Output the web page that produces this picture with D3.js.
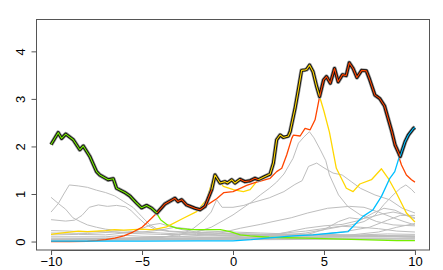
<!DOCTYPE html>
<html>
<head>
<meta charset="utf-8">
<script src="https://cdn.jsdelivr.net/npm/d3@7"></script>
<style>
html,body{margin:0;padding:0;background:#fff;}
svg{display:block;font-family:"Liberation Sans",Arial,Helvetica,sans-serif;}
</style>
</head>
<body>
<svg id="chart" width="443" height="270"></svg>
<script>
// ---- tick labels ----
const xTicks = [-10, -5, 0, 5, 10];
const yTicks = [0, 1, 2, 3, 4];

// ---- colored component curves: [x, y] ----
const greenCurve = [[-10,2.04],[-9.61,2.29],[-9.42,2.17],[-9.19,2.26],[-8.78,2.14],[-8.42,1.93],[-8.23,2.01],[-7.87,1.79],[-7.5,1.47],[-7.32,1.4],[-6.86,1.3],[-6.58,1.32],[-6.4,1.12],[-5.94,1.03],[-5.67,0.96],[-5.3,0.81],[-5.02,0.71],[-4.75,0.76],[-4.47,0.7],[-4.18,0.58],[-3.98,0.46],[-3.6,0.35],[-3.1,0.28],[-2.3,0.25],[-1.5,0.25],[-0.7,0.25],[-0.15,0.21],[0.4,0.14],[0.94,0.12],[2,0.09],[3,0.08],[4,0.07],[5,0.06],[6,0.05],[7,0.04],[8,0.03],[9,0.02],[10,0.02]];
const orangeCurve = [[-10,0],[-9,0],[-8,0.005],[-7.5,0.02],[-7,0.04],[-6.5,0.07],[-6,0.12],[-5.5,0.2],[-5,0.3],[-4.75,0.39],[-4.45,0.5],[-4.18,0.6],[-3.74,0.79],[-3.19,0.91],[-3.03,0.84],[-2.82,0.88],[-2.55,0.77],[-2.09,0.7],[-1.81,0.67],[-1.54,0.74],[-0.9,0.9],[-0.5,1.03],[0,1.05],[0.4,1.12],[0.75,1.18],[1.2,1.24],[1.5,1.27],[2.04,1.33],[2.4,1.47],[2.68,1.54],[2.95,1.82],[3.23,2.17],[3.32,2.24],[3.69,2.22],[3.96,2.38],[4.24,2.35],[4.51,2.56],[4.69,2.91],[4.76,3.05],[4.98,3.4],[5.14,3.47],[5.35,3.33],[5.58,3.64],[5.78,3.36],[6.02,3.51],[6.22,3.49],[6.39,3.76],[6.6,3.64],[6.81,3.45],[7.07,3.6],[7.33,3.59],[7.51,3.41],[7.8,3.08],[8.06,3.01],[8.33,2.85],[8.73,2.31],[8.91,2.03],[9.08,1.82],[9.26,1.61],[9.53,1.4],[9.81,1.3],[10,1.25]];
const yellowCurve = [[-10,0.15],[-9.6,0.17],[-9,0.2],[-8.5,0.22],[-8,0.21],[-7.5,0.22],[-7,0.23],[-6.5,0.25],[-6,0.24],[-5.5,0.25],[-5,0.26],[-4.6,0.25],[-4.38,0.25],[-3.65,0.31],[-2.73,0.49],[-2,0.63],[-1.45,0.88],[-1.17,1.23],[-0.99,1.4],[-0.53,1.16],[0.02,1.09],[0.57,1.05],[0.94,1.09],[1.3,1.26],[1.39,1.3],[1.76,1.37],[2.04,1.42],[2.22,1.65],[2.4,2.14],[2.59,2.24],[2.77,2.19],[3.04,2.22],[3.14,2.31],[3.41,2.8],[3.59,3.19],[3.77,3.6],[3.96,3.61],[4.05,3.62],[4.21,3.71],[4.4,3.57],[4.6,3.26],[4.76,3.05],[5,2.74],[5.3,2.3],[5.68,1.54],[6.23,1.12],[6.6,1.05],[6.97,1.21],[7.61,1.3],[8.16,1.53],[8.53,1.33],[8.98,1.02],[9.53,0.6],[10,0.41]];
const blueCurve = [[-10,0.01],[-5,0.01],[-2,0.012],[0,0.015],[1,0.04],[1.85,0.07],[3.3,0.12],[4.4,0.14],[5.5,0.18],[6.33,0.21],[6.78,0.39],[7.15,0.53],[7.7,0.67],[8.16,0.95],[8.62,1.33],[8.89,1.47],[9.17,1.82],[9.46,2.1],[9.64,2.24],[9.92,2.38],[10,2.4]];

// ---- upper envelope ----
const envelopeX = [-10,-9.61,-9.42,-9.19,-8.78,-8.42,-8.23,-7.87,-7.5,-7.32,-6.86,-6.58,-6.4,-5.94,-5.67,-5.3,-5.02,-4.75,-4.47,-4.18,-3.74,-3.19,-3.03,-2.82,-2.55,-2.09,-1.81,-1.54,-1.17,-0.99,-0.71,-0.44,-0.31,-0.07,0.11,0.39,0.66,0.94,1.21,1.39,1.76,2.04,2.22,2.4,2.59,2.77,3.04,3.14,3.41,3.59,3.77,3.96,4.05,4.21,4.4,4.6,4.76,4.98,5.14,5.35,5.58,5.78,6.02,6.22,6.39,6.6,6.81,7.07,7.33,7.51,7.8,8.06,8.33,8.73,8.91,9.19,9.46,9.64,9.92,10];
const envelopeY = [2.04,2.29,2.17,2.26,2.14,1.93,2.01,1.79,1.47,1.4,1.3,1.32,1.12,1.03,0.96,0.81,0.71,0.76,0.7,0.6,0.79,0.91,0.84,0.88,0.77,0.7,0.67,0.74,1.09,1.4,1.23,1.26,1.23,1.3,1.23,1.31,1.26,1.28,1.33,1.3,1.37,1.42,1.65,2.14,2.24,2.19,2.22,2.31,2.8,3.19,3.6,3.61,3.62,3.71,3.57,3.26,3.05,3.4,3.47,3.33,3.64,3.36,3.51,3.49,3.76,3.64,3.45,3.6,3.59,3.41,3.08,3.01,2.85,2.31,2.03,1.79,2.1,2.24,2.38,2.4];
const envelopeBreaks = [-10, -4.18, -1.17, 0.39, 1.39, 4.76, 9.19, 10];
const envelopeKeys = ["green", "orange", "yellow", "orange", "yellow", "orange", "blue"];

// ---- gray background components ----
const grayCurves = [
  [[-10,0.93],[-9.6,0.8],[-9.2,0.68],[-8.8,0.5],[-8.4,0.42],[-8,0.35],[-7.5,0.3],[-7,0.26],[-6.5,0.24],[-5.8,0.22],[-5,0.2],[-4,0.18],[-3,0.16],[-2,0.15],[0,0.13],[2,0.12],[4,0.12],[6,0.11],[8,0.1],[10,0.1]],
  [[-10,0.62],[-9.6,0.8],[-9.3,1.0],[-9.0,1.19],[-8.5,1.17],[-8,1.14],[-7.5,1.08],[-7,1.03],[-6.5,0.96],[-6,0.84],[-5.5,0.72],[-5,0.52],[-4.6,0.36],[-4.2,0.27],[-3.5,0.22],[-2.5,0.2],[-1,0.18],[0,0.17],[2,0.15],[4,0.14],[6,0.13],[8,0.12],[10,0.11]],
  [[-10,0.46],[-9.2,0.43],[-8.7,0.45],[-8.3,0.55],[-7.9,0.72],[-7.4,0.77],[-6.9,0.74],[-6.4,0.76],[-5.9,0.73],[-5.6,0.65],[-5.2,0.5],[-4.8,0.36],[-4.3,0.26],[-3.5,0.21],[-2,0.17],[0,0.15],[3,0.13],[6,0.12],[10,0.1]],
  [[-10,0.23],[-9,0.22],[-8,0.2],[-7,0.22],[-6,0.19],[-5,0.2],[-4,0.24],[-3.2,0.3],[-2.5,0.27],[-1.5,0.22],[0,0.2],[1.5,0.18],[3,0.16],[5,0.15],[7,0.14],[8.5,0.16],[10,0.15]],
  [[-10,0.18],[-8,0.17],[-6.5,0.2],[-5.5,0.17],[-4,0.15],[-2,0.14],[0,0.12],[2,0.13],[4,0.11],[6,0.12],[8,0.13],[10,0.12]],
  [[-10,0.1],[-7,0.1],[-6,0.13],[-5,0.11],[-3,0.1],[0,0.09],[3,0.08],[6,0.09],[9,0.1],[10,0.09]],
  [[-10,0.07],[-5,0.07],[0,0.06],[5,0.06],[10,0.06]],
  [[-10,0.04],[-4,0.05],[2,0.04],[7,0.05],[10,0.05]],
  [[-10,0.14],[-8.5,0.15],[-7,0.14],[-5.5,0.2],[-4.5,0.35],[-4,0.38],[-3.5,0.32],[-2.8,0.25],[-2,0.2],[-1,0.18],[1,0.15],[4,0.13],[10,0.1]],
  [[-10,0.05],[-5,0.08],[-3,0.12],[-2.2,0.27],[-1.6,0.45],[-1.2,0.62],[-0.9,0.88],[-0.6,0.72],[0,0.72],[0.6,0.76],[0.95,0.81],[1.5,0.98],[2,1.12],[2.4,1.25],[2.8,1.42],[3.3,1.75],[3.6,2.07],[3.9,2.2],[4.2,2.31],[4.45,2.18],[4.8,1.93],[5.1,1.7],[5.3,1.4],[5.8,0.98],[6.3,0.74],[7,0.56],[7.9,0.42],[8.8,0.35],[10,0.33]],
  [[-10,0.03],[-4,0.08],[-3,0.15],[-2,0.2],[-1.2,0.3],[-0.5,0.45],[0,0.56],[0.9,0.8],[2,0.92],[2.8,1.05],[3.4,1.2],[3.8,1.28],[4.15,1.58],[4.6,1.65],[5,1.55],[5.5,1.44],[6,1.4],[6.5,1.26],[7,1.12],[7.8,0.98],[8.6,0.88],[9.3,0.7],[10,0.6]],
  [[-10,0.02],[-3,0.1],[-1,0.15],[0.4,0.28],[1.5,0.36],[2.2,0.42],[3.2,0.5],[4.1,0.6],[5.2,0.7],[6.4,0.74],[7.2,0.72],[8,0.62],[8.8,0.5],[9.4,0.42],[10,0.35]],
  [[-10,0.02],[-2,0.08],[0,0.1],[2,0.15],[4,0.22],[5.5,0.3],[6.5,0.35],[7.2,0.42],[7.8,0.55],[8.3,0.78],[8.8,0.98],[9.2,1.12],[9.5,1.19],[9.8,1.1],[10,1.02]],
  [[-10,0.03],[0,0.07],[2,0.12],[3,0.2],[4,0.28],[5,0.33],[6,0.36],[7,0.45],[7.7,0.6],[8.3,0.7],[8.9,0.66],[9.5,0.55],[10,0.48]],
  [[-10,0.02],[2,0.1],[4,0.18],[5,0.25],[5.8,0.42],[6.4,0.5],[7,0.47],[7.6,0.52],[8.2,0.58],[8.8,0.62],[9.3,0.58],[10,0.5]],
  [[-10,0.03],[-1,0.05],[2,0.08],[4,0.12],[6,0.2],[7.5,0.3],[8.5,0.45],[9.2,0.55],[10,0.55]],
  [[-10,0.02],[0,0.04],[4,0.07],[6,0.12],[8,0.2],[9,0.3],[10,0.38]],
  [[-10,0.04],[2,0.05],[4,0.14],[5,0.25],[6,0.32],[7,0.3],[8,0.27],[9,0.22],[10,0.2]]
];

const palette = { green: "#76EE00", orange: "#FF4500", yellow: "#FFD700", blue: "#00BFFF", gray: "#BEBEBE" };

// ---- scales ----
const svg = d3.select("#chart");
const x = d3.scaleLinear().domain([-10.8, 10.8]).range([36.5, 429.5]);
const y = d3.scaleLinear().domain([-0.178, 4.67]).range([250, 19.5]);

const line = d3.line().x(d => x(d[0])).y(d => y(d[1]));

const plot = svg.append("g");

// gray components
plot.selectAll("path.gray").data(grayCurves).join("path")
  .attr("class", "gray")
  .attr("d", line)
  .attr("fill", "none")
  .attr("stroke", palette.gray)
  .attr("stroke-width", 1);

// colored components
const colored = [
  { key: "green", pts: greenCurve },
  { key: "yellow", pts: yellowCurve },
  { key: "orange", pts: orangeCurve },
  { key: "blue", pts: blueCurve }
];
plot.selectAll("path.comp").data(colored).join("path")
  .attr("class", "comp")
  .attr("d", d => line(d.pts))
  .attr("fill", "none")
  .attr("stroke", d => palette[d.key])
  .attr("stroke-width", 1.3)
  .attr("stroke-linejoin", "round");

// envelope
const env = envelopeX.map((v, i) => [v, envelopeY[i]]);
plot.append("path").attr("d", line(env)).attr("fill", "none")
  .attr("stroke", "#999").attr("stroke-width", 4.4).attr("stroke-linejoin", "round");
plot.append("path").attr("d", line(env)).attr("fill", "none")
  .attr("stroke", "#111").attr("stroke-width", 3).attr("stroke-linejoin", "round");
envelopeKeys.forEach((k, i) => {
  const a = envelopeBreaks[i], b = envelopeBreaks[i + 1];
  const seg = env.filter(p => p[0] >= a - 1e-9 && p[0] <= b + 1e-9);
  plot.append("path").attr("d", line(seg)).attr("fill", "none")
    .attr("stroke", palette[k]).attr("stroke-width", 1.1).attr("stroke-linejoin", "round");
});

// box
svg.append("rect").attr("x", 36.5).attr("y", 19.5).attr("width", 393).attr("height", 230.5)
  .attr("fill", "none").attr("stroke", "#555").attr("stroke-width", 1);

// axes
const fmt = d => (d < 0 ? "\u2212" + Math.abs(d) : String(d));
const xAxis = d3.axisBottom(x).tickValues(xTicks).tickSize(5).tickPadding(2).tickFormat(fmt);
const gx = svg.append("g").attr("transform", "translate(0,250)").call(xAxis);
gx.select(".domain").attr("stroke", "#555").attr("d", `M${x(-10)},0.5H${x(10)}`);
gx.selectAll(".tick line").attr("stroke", "#555");
gx.selectAll(".tick text").attr("font-size", 13).attr("fill", "#000")
  .attr("font-family", "Liberation Sans, Arial, sans-serif");

const yAxis = d3.axisLeft(y).tickValues(yTicks).tickSize(5).tickFormat(fmt);
const gy = svg.append("g").attr("transform", "translate(36.5,0)").call(yAxis);
gy.select(".domain").attr("stroke", "#555").attr("d", `M0,${y(0)}V${y(4)}`);
gy.selectAll(".tick line").attr("stroke", "#555");
gy.selectAll(".tick text")
  .attr("font-size", 13).attr("fill", "#000")
  .attr("font-family", "Liberation Sans, Arial, sans-serif")
  .attr("x", null).attr("dy", null)
  .attr("text-anchor", "middle")
  .attr("transform", "translate(-11.5,0) rotate(-90)");
</script>
</body>
</html>
